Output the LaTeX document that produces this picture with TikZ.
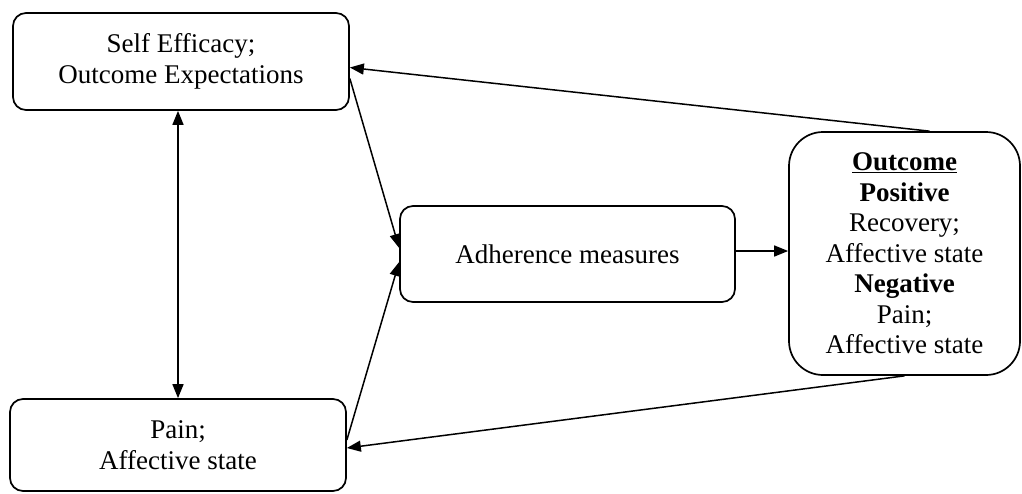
\documentclass[tikz,border=0pt]{standalone}
\usepackage{fontspec}
\setmainfont{Liberation Serif}
\usetikzlibrary{arrows.meta,calc}
\begin{document}
\begin{tikzpicture}[x=1pt,y=-1pt,
  box/.style={draw,line width=1.7pt,rounded corners=13pt,inner sep=0pt,align=center,
    font=\fontsize{27}{30.5}\selectfont},
  arr/.style={line width=1.5pt,-{Triangle[length=14pt,width=11pt]}},
  darr/.style={line width=1.5pt,{Triangle[length=14pt,width=11pt]}-{Triangle[length=14pt,width=11pt]}}]
\useasboundingbox (0,0) rectangle (1022,493);
\node[box,minimum width=336pt,minimum height=97pt] (SE) at (181,61.5) {Self Efficacy;\\Outcome Expectations};
\node[box,minimum width=336pt,minimum height=92pt] (Pain) at (178,445) {Pain;\\Affective state};
\node[box,minimum width=335pt,minimum height=96pt] (Adh) at (567.5,254) {Adherence measures};
\node[box,rounded corners=34pt,minimum width=231pt,minimum height=243pt] (Out) at (904.5,253.5)
  {\underline{\textbf{Outcome}}\\\textbf{Positive}\\Recovery;\\Affective state\\\textbf{Negative}\\Pain;\\Affective state};
\draw[darr] (Pain.north |- SE.south) -- (Pain.north);
\draw[arr] ($(SE.east)+(0,17)$) -- ($(Adh.west)+(0,-6)$);
\draw[arr] ($(Pain.east)+(0,-5)$) -- ($(Adh.west)+(0,8)$);
\draw[arr] ($(Out.north)+(25,0)$) -- ($(SE.east)+(0,6)$);
\draw[arr] (Out.south) -- ($(Pain.east)+(0,3)$);
\draw[arr] (Adh.east |- 0,251) -- (Out.west |- 0,251);
\end{tikzpicture}
\end{document}
